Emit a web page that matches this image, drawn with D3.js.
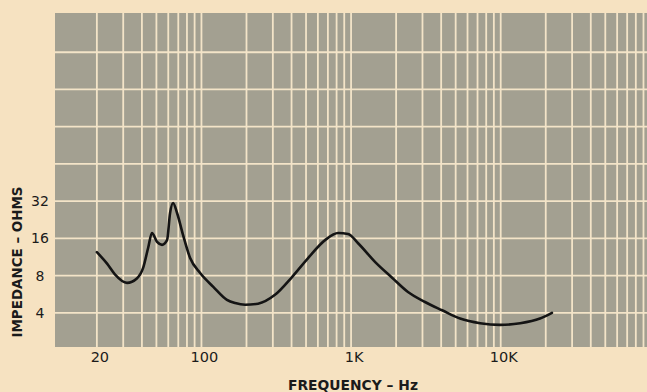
<!DOCTYPE html>
<html>
<head>
<meta charset="utf-8">
<script src="https://cdn.jsdelivr.net/npm/d3@7"></script>
<style>
  html, body { margin: 0; padding: 0; background: #f6e2c1; }
  svg { display: block; }
</style>
</head>
<body>
<svg id="chart" width="647" height="392"></svg>
<script>
// impedance curve (Hz, ohms)
const freqHz = [20, 23.4, 26.4, 31.8, 37, 40.7, 44, 46.7, 50.5, 54.5, 58.9, 61.7, 64.6, 68.7, 75.3, 84,
  98, 120, 148, 168, 196, 239, 310, 403, 516, 670, 820, 955, 1110, 1450, 1880, 2400, 3120, 4060,
  5350, 7280, 9900, 13500, 18300, 22000];
const impedanceOhms = [12.4, 10.0, 8.2, 7.0, 7.6, 9.2, 13.4, 17.7, 15.0, 14.2, 15.5, 25.7, 30.9, 25.7, 17.1, 11.1,
  8.4, 6.5, 5.1, 4.8, 4.65, 4.75, 5.6, 7.8, 11.1, 15.5, 17.7, 17.4, 14.7, 10.3, 7.7, 5.9, 4.9, 4.2,
  3.6, 3.3, 3.2, 3.3, 3.6, 4.0];

const ohmTicks = [4, 8, 16, 32];
const freqTicks = [20, 100, 1000, 10000];
const freqLabels = ['20', '100', '1K', '10K'];

const svg = d3.select('#chart');
const plot = { left: 55, right: 647, top: 13, bottom: 347 };

const x = d3.scaleLog().domain([10.5, 95000]).range([plot.left, plot.right]);
const y = d3.scaleLog().base(2).domain([2.12, 1024]).range([plot.bottom, 15]);

const gridCol = '#f3e4c8';

// grey chart paper
svg.append('rect')
  .attr('x', plot.left).attr('y', plot.top)
  .attr('width', plot.right - plot.left).attr('height', plot.bottom - plot.top)
  .attr('fill', '#a3a091');

// log grid: 1..9 in every decade
const vLines = [];
for (let dec = 10; dec <= 10000; dec *= 10) {
  for (let m = 1; m <= 9; m++) vLines.push(dec * m);
}
const hLines = d3.range(2, 10).map(p => Math.pow(2, p)); // 4 .. 512

const grid = svg.append('g').attr('stroke', gridCol).attr('stroke-width', 1.8);
grid.selectAll('line.v')
  .data(vLines.filter(f => x(f) > plot.left + 2 && x(f) < plot.right))
  .enter().append('line')
  .attr('class', 'v')
  .attr('x1', d => x(d)).attr('x2', d => x(d))
  .attr('y1', plot.top).attr('y2', plot.bottom);
grid.selectAll('line.h')
  .data(hLines)
  .enter().append('line')
  .attr('class', 'h')
  .attr('x1', plot.left).attr('x2', plot.right)
  .attr('y1', d => y(d)).attr('y2', d => y(d));

// the curve
const pts = freqHz.map((f, i) => [f, impedanceOhms[i]]);
const line = d3.line()
  .x(d => x(d[0]))
  .y(d => y(d[1]))
  .curve(d3.curveMonotoneX);

svg.append('path')
  .datum(pts)
  .attr('d', line)
  .attr('fill', 'none')
  .attr('stroke', '#141414')
  .attr('stroke-width', 2.6)
  .attr('stroke-linecap', 'round')
  .attr('stroke-linejoin', 'round');

// tick labels
const font = "'DejaVu Sans', sans-serif";
svg.append('g').selectAll('text')
  .data(ohmTicks)
  .enter().append('text')
  .attr('x', 40)
  .attr('y', d => y(d))
  .attr('dy', '0.36em')
  .attr('text-anchor', 'middle')
  .attr('font-family', font)
  .attr('font-size', 14)
  .attr('fill', '#1b1b1b')
  .text(d => d);

svg.append('g').selectAll('text')
  .data(freqTicks)
  .enter().append('text')
  .attr('x', d => x(d) + 3)
  .attr('y', 362)
  .attr('text-anchor', 'middle')
  .attr('font-family', font)
  .attr('font-size', 14.5)
  .attr('fill', '#1b1b1b')
  .text((d, i) => freqLabels[i]);

// axis titles
svg.append('text')
  .attr('x', 353)
  .attr('y', 390)
  .attr('text-anchor', 'middle')
  .attr('font-family', font)
  .attr('font-weight', 'bold')
  .attr('font-size', 14)
  .attr('textLength', 130)
  .attr('lengthAdjust', 'spacingAndGlyphs')
  .attr('fill', '#1b1b1b')
  .text('FREQUENCY – Hz');

svg.append('text')
  .attr('transform', 'translate(22,262) rotate(-90)')
  .attr('text-anchor', 'middle')
  .attr('font-family', font)
  .attr('font-weight', 'bold')
  .attr('font-size', 13.5)
  .attr('textLength', 151)
  .attr('lengthAdjust', 'spacingAndGlyphs')
  .attr('fill', '#1b1b1b')
  .text('IMPEDANCE – OHMS');
</script>
</body>
</html>
